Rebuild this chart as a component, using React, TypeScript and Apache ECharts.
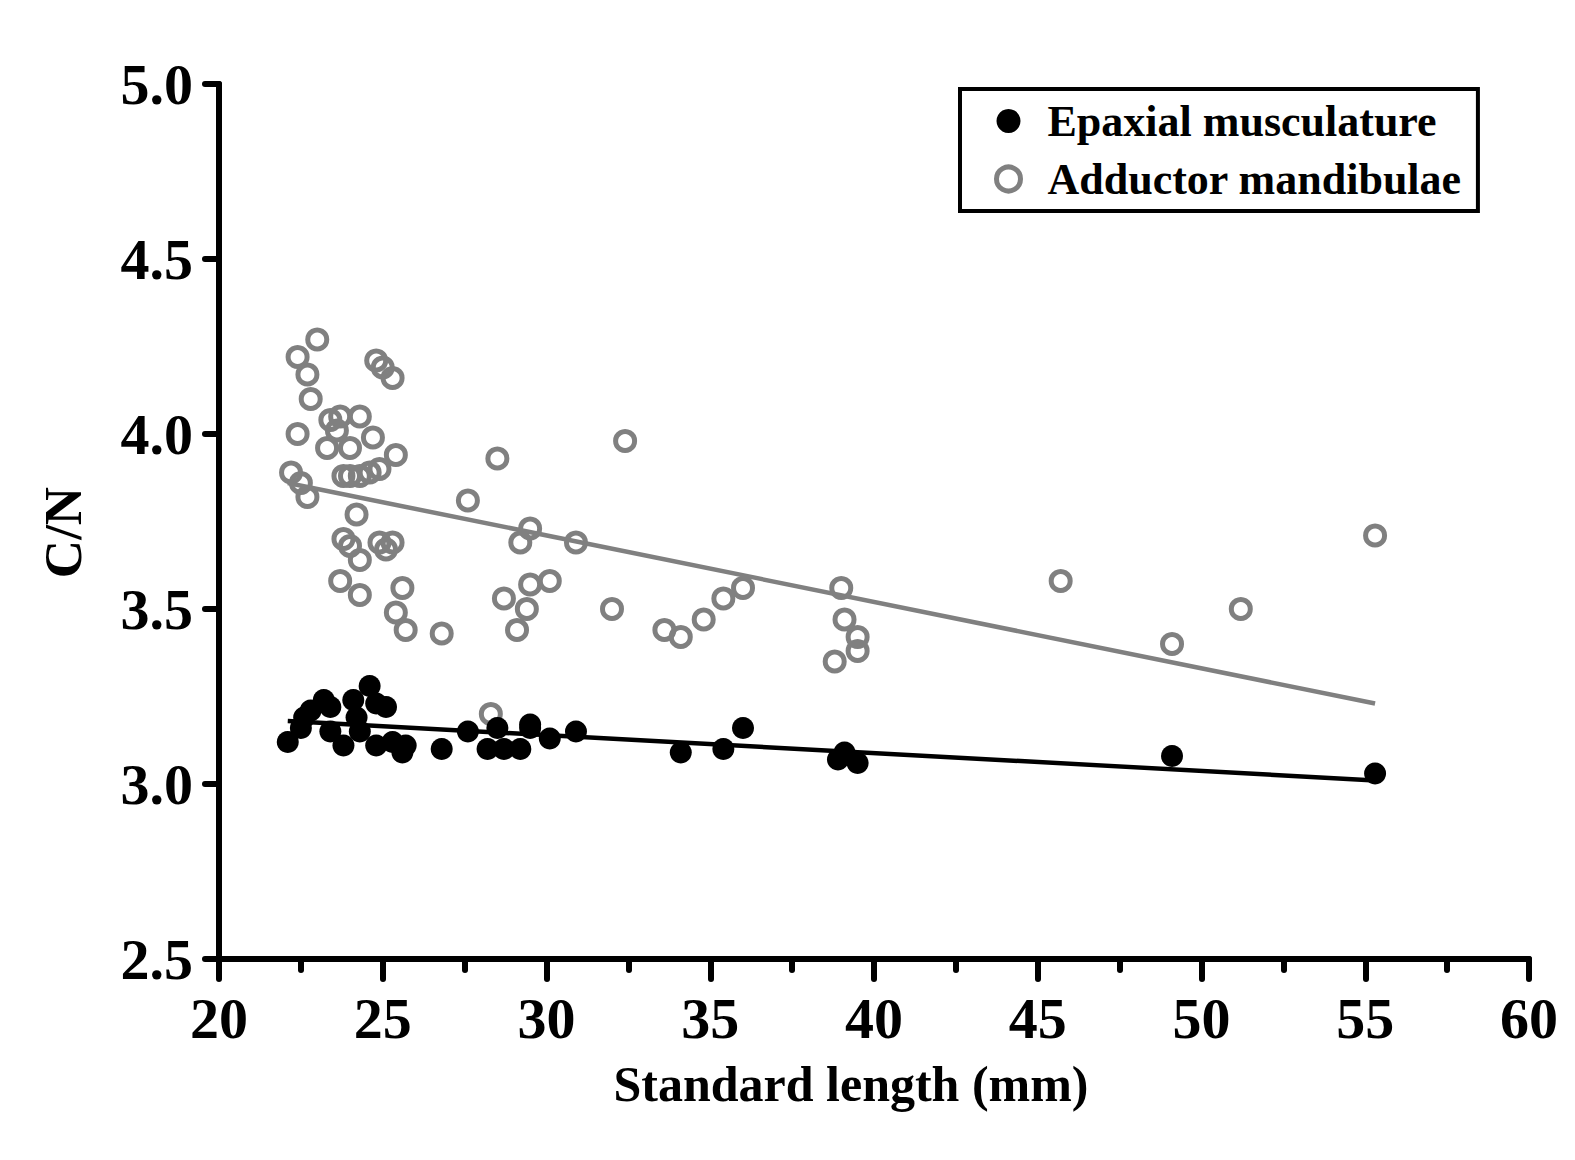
import { useEffect, useRef } from "react";
import * as echarts from "echarts";

// standard length (mm) vs C/N
const epaxialLength = [
  22.1, 22.5, 22.6, 22.8, 23.2, 23.4, 23.4, 23.8, 24.1, 24.2, 24.3, 24.6, 24.8, 25.1,
  24.8, 25.3, 25.6, 25.7, 26.8, 27.6, 28.5, 28.2, 28.7, 29.2, 29.5, 29.5, 30.1, 30.9,
  34.1, 35.4, 36.0, 38.9, 39.1, 39.5, 49.1, 55.3,
];
const epaxialCN = [
  3.12, 3.16, 3.19, 3.21, 3.24, 3.22, 3.15, 3.11, 3.24, 3.19, 3.15, 3.28, 3.23, 3.22,
  3.11, 3.12, 3.09, 3.11, 3.1, 3.15, 3.16, 3.1, 3.1, 3.1, 3.17, 3.16, 3.13, 3.15,
  3.09, 3.1, 3.16, 3.07, 3.09, 3.06, 3.08, 3.03,
];

const adductorLength = [
  23.0, 22.4, 22.7, 22.8, 22.4, 22.2, 22.5, 22.7, 24.8, 25.0, 25.3, 23.4, 23.7, 23.6,
  24.3, 24.7, 24.0, 23.3, 25.4, 23.8, 24.0, 24.3, 24.6, 24.9, 24.2, 23.8, 24.0, 24.3,
  24.9, 25.1, 25.3, 23.7, 24.3, 25.6, 25.4, 25.7, 26.8, 27.6, 28.5, 28.3, 28.7, 29.1,
  29.2, 29.5, 29.5, 29.4, 30.1, 30.9, 32.0, 32.4, 33.6, 34.1, 34.8, 35.4, 36.0, 39.0,
  39.1, 38.8, 39.5, 39.5, 45.7, 49.1, 51.2, 55.3,
];
const adductorCN = [
  4.27, 4.22, 4.17, 4.1, 4.0, 3.89, 3.86, 3.82, 4.21, 4.19, 4.16, 4.04, 4.05, 4.01,
  4.05, 3.99, 3.96, 3.96, 3.94, 3.88, 3.88, 3.88, 3.89, 3.9, 3.77, 3.7, 3.68, 3.64,
  3.69, 3.67, 3.69, 3.58, 3.54, 3.56, 3.49, 3.44, 3.43, 3.81, 3.93, 3.2, 3.53, 3.44,
  3.69, 3.73, 3.57, 3.5, 3.58, 3.69, 3.5, 3.98, 3.44, 3.42, 3.47, 3.53, 3.56, 3.56,
  3.47, 3.35, 3.42, 3.38, 3.58, 3.4, 3.5, 3.71,
];

// regression line end points
const epaxialFitX = [22.1, 55.3];
const epaxialFitY = [3.18, 3.01];
const adductorFitX = [22.1, 55.3];
const adductorFitY = [3.86, 3.23];

const xTicks = [20, 25, 30, 35, 40, 45, 50, 55, 60];
const yTicks = [2.5, 3.0, 3.5, 4.0, 4.5, 5.0];

const pairs = (xs: number[], ys: number[]) => xs.map((x, i) => [x, ys[i]]);

const FONT = "Liberation Serif";
const GRAY = "#808080";

export default function App() {
  const ref = useRef<HTMLDivElement>(null);

  useEffect(() => {
    const el = ref.current;
    if (!el) return;
    const chart = echarts.init(el, undefined, { renderer: "svg" });
    const axisText = { fontFamily: FONT, fontWeight: "bold" as const, color: "#000" };
    chart.setOption({
      animation: false,
      backgroundColor: "#fff",
      grid: { left: 219, right: 46, top: 84, bottom: 201 },
      legend: {
        left: 960,
        top: 89,
        orient: "vertical",
        borderColor: "#000",
        borderWidth: 4,
        padding: [10, 16, 10, 34],
        itemGap: 14,
        itemWidth: 24,
        itemHeight: 24,
        textStyle: { ...axisText, fontSize: 44, padding: [0, 0, 0, 22] },
        data: [
          { name: "Epaxial musculature", icon: "circle", itemStyle: { color: "#000", borderWidth: 0 } },
          {
            name: "Adductor mandibulae",
            icon: "circle",
            itemStyle: { color: "#fff", borderColor: GRAY, borderWidth: 5 },
          },
        ],
      },
      xAxis: {
        type: "value",
        min: xTicks[0],
        max: xTicks[xTicks.length - 1],
        interval: 5,
        name: "Standard length (mm)",
        nameLocation: "middle",
        nameGap: 100,
        nameTextStyle: { ...axisText, fontSize: 50, padding: [0, 46, 0, 0] },
        splitLine: { show: false },
        axisLine: { lineStyle: { color: "#000", width: 6, cap: "round" } },
        axisTick: { length: 20, lineStyle: { color: "#000", width: 6, cap: "round" } },
        minorTick: { show: true, splitNumber: 2, length: 11, lineStyle: { color: "#000", width: 6, cap: "round" } },
        axisLabel: { ...axisText, fontSize: 58, margin: 30 },
      },
      yAxis: {
        type: "value",
        min: yTicks[0],
        max: yTicks[yTicks.length - 1],
        interval: 0.5,
        name: "C/N",
        nameLocation: "middle",
        nameGap: 130,
        nameTextStyle: { ...axisText, fontSize: 53, padding: [0, 22, 0, 0] },
        splitLine: { show: false },
        axisLine: { lineStyle: { color: "#000", width: 6, cap: "round" } },
        axisTick: { length: 14, lineStyle: { color: "#000", width: 6, cap: "round" } },
        axisLabel: { ...axisText, fontSize: 58, margin: 26, formatter: (v: number) => v.toFixed(1) },
      },
      series: [
        {
          name: "Adductor mandibulae",
          type: "scatter",
          symbol: "circle",
          symbolSize: 19,
          data: pairs(adductorLength, adductorCN),
          itemStyle: { color: "transparent", borderColor: GRAY, borderWidth: 5, opacity: 1 },
          z: 2,
        },
        {
          name: "Adductor fit",
          type: "line",
          symbol: "none",
          data: pairs(adductorFitX, adductorFitY),
          lineStyle: { color: GRAY, width: 4.5 },
          z: 3,
        },
        {
          name: "Epaxial musculature",
          type: "scatter",
          symbol: "circle",
          symbolSize: 22,
          data: pairs(epaxialLength, epaxialCN),
          itemStyle: { color: "#000", opacity: 1 },
          z: 4,
        },
        {
          name: "Epaxial fit",
          type: "line",
          symbol: "none",
          data: pairs(epaxialFitX, epaxialFitY),
          lineStyle: { color: "#000", width: 4.5 },
          z: 5,
        },
      ],
    });
    return () => {
      chart.dispose();
    };
  }, []);

  return (
    <div
      ref={ref}
      style={{ position: "absolute", left: 0, top: 0, width: 1575, height: 1160 }}
    />
  );
}
